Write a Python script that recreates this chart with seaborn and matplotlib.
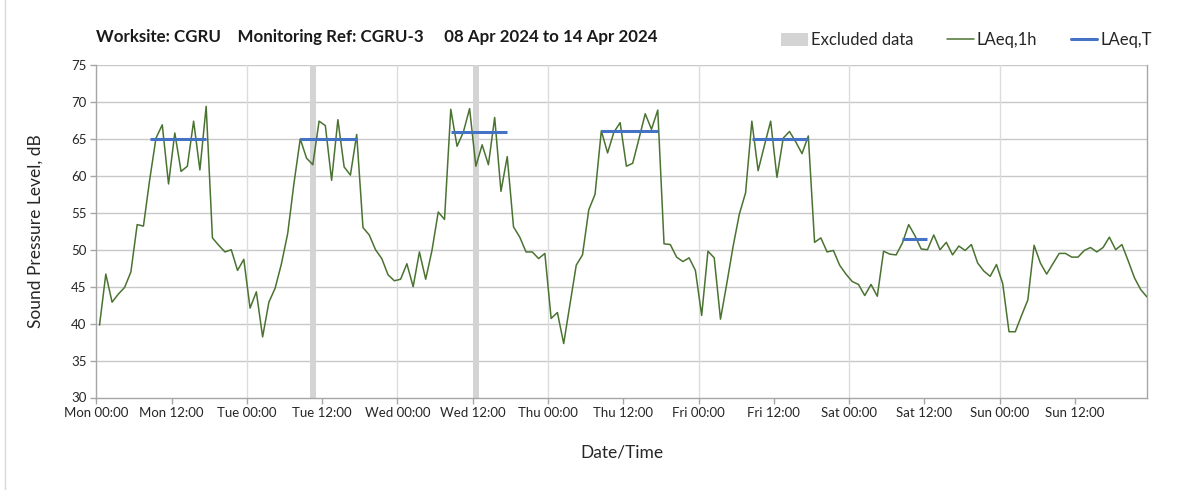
import numpy as np
import pandas as pd
import matplotlib
matplotlib.use("Agg")
import matplotlib.pyplot as plt
import seaborn as sns
from matplotlib.patches import Patch
from matplotlib.lines import Line2D

# Hourly LAeq,1h values, Mon 00:00 to Sun 23:00 (dB)
laeq_1h = [
    39.8, 46.7, 42.9, 44.0, 44.9, 47.0, 53.4, 53.2, 59.5, 65.1, 66.9, 58.9,
    65.8, 60.6, 61.3, 67.4, 60.8, 69.4, 51.6, 50.6, 49.7, 50.0, 47.2, 48.7,
    42.1, 44.3, 38.2, 42.9, 44.8, 48.1, 52.2, 59.0, 65.0, 62.4, 61.5, 67.4,
    66.8, 59.4, 67.6, 61.2, 60.1, 65.6, 53.0, 52.0, 50.0, 48.8, 46.6, 45.8,
    46.0, 48.1, 45.0, 49.7, 46.0, 49.9, 55.1, 54.1, 69.0, 64.0, 65.9, 69.1,
    61.3, 64.2, 61.5, 67.9, 57.9, 62.6, 53.1, 51.7, 49.7, 49.7, 48.8, 49.5,
    40.7, 41.5, 37.3, 42.6, 47.9, 49.3, 55.4, 57.5, 66.1, 63.1, 65.9, 67.2,
    61.3, 61.7, 65.0, 68.4, 66.3, 68.9, 50.8, 50.7, 49.0, 48.4, 48.9, 47.2,
    41.1, 49.8, 48.9, 40.6, 45.4, 50.4, 54.8, 57.7, 67.4, 60.7, 64.1, 67.4,
    59.8, 65.1, 66.0, 64.6, 63.0, 65.4, 51.0, 51.6, 49.7, 49.9, 47.9, 46.7,
    45.7, 45.3, 43.8, 45.3, 43.7, 49.8, 49.4, 49.3, 50.9, 53.4, 51.9, 50.1,
    50.0, 52.0, 50.0, 51.0, 49.3, 50.5, 49.9, 50.7, 48.2, 47.1, 46.4, 48.0,
    45.4, 38.9, 38.9, 41.1, 43.2, 50.6, 48.2, 46.7, 48.1, 49.5, 49.5, 49.0,
    49.0, 49.9, 50.3, 49.7, 50.3, 51.7, 50.0, 50.7, 48.5, 46.2, 44.6, 43.6,
]
hour_of_week = np.arange(len(laeq_1h)) + 0.5  # each value plotted mid-hour

# Daytime LAeq,T per day: first hour, last hour, level
period_start = [8, 32, 56, 80, 104, 128]
period_end = [17, 41, 65, 89, 113, 132]
laeq_t = [65.0, 65.0, 65.9, 66.1, 65.0, 51.5]

# Hours excluded from the assessment
excluded_hours = [34, 60]

tick_hours = list(range(0, 168, 12))
tick_labels = ["Mon 00:00", "Mon 12:00", "Tue 00:00", "Tue 12:00", "Wed 00:00",
               "Wed 12:00", "Thu 00:00", "Thu 12:00", "Fri 00:00", "Fri 12:00",
               "Sat 00:00", "Sat 12:00", "Sun 00:00", "Sun 12:00"]

green = "#4a7331"
blue = "#4472c4"
band = "#d4d4d4"
grid_c = "#c8c8c8"
axis_c = "#a6a6a6"
text_c = "#262626"

sns.set_theme(style="white")
plt.rcParams["font.family"] = ["Lato", "DejaVu Sans"]
plt.rcParams["text.color"] = text_c

df = pd.DataFrame({"hour": hour_of_week, "level": laeq_1h})

fig = plt.figure(figsize=(12.03, 4.90), dpi=100)
ax = fig.add_axes([96.4 / 1203, 1 - 397.5 / 490, (1147 - 96.4) / 1203, (397.5 - 65) / 490])

for h in excluded_hours:
    ax.axvspan(h, h + 0.95, color=band, lw=0, zorder=1)

sns.lineplot(data=df, x="hour", y="level", color=green, lw=1.1, ax=ax, zorder=3)

ax.hlines(laeq_t,
          [s + 0.5 for s in period_start],
          [e + 0.5 for e in period_end],
          color=blue, lw=2.2, zorder=4)

ax.set_xlim(0, 167.5)
ax.set_ylim(30, 75)
ax.set_yticks(range(30, 80, 5))
ax.set_xticks(tick_hours)
ax.set_xticklabels(tick_labels)

# horizontal grid every 5 dB, vertical grid at midnight
for y in range(35, 80, 5):
    ax.axhline(y, color=grid_c, lw=1.0, zorder=0.5)
for d in range(24, 168, 24):
    ax.axvline(d, color="#dcdcdc", lw=1.0, zorder=0.5)

ax.spines["top"].set_visible(False)
for side in ["left", "bottom", "right"]:
    ax.spines[side].set_color(axis_c)
    ax.spines[side].set_linewidth(1.0)

ax.tick_params(axis="both", which="major", length=4, width=1.0, color=axis_c,
               labelsize=9.5, labelcolor=text_c, pad=3, direction="out",
               bottom=True, left=True)

ax.set_xlabel("Date/Time", fontsize=12.5, color=text_c, labelpad=18)
ax.set_ylabel("Sound Pressure Level, dB", fontsize=12.5, color=text_c, labelpad=20)

fig.text(96 / 1203, 1 - 37 / 490,
         "Worksite: CGRU    Monitoring Ref: CGRU-3     08 Apr 2024 to 14 Apr 2024",
         fontsize=12.2, fontweight="bold", color="#1a1a1a", va="center", ha="left")

handles = [Patch(facecolor=band, edgecolor="none", label="Excluded data"),
           Line2D([], [], color=green, lw=1.1, label="LAeq,1h"),
           Line2D([], [], color=blue, lw=2.2, label="LAeq,T")]
fig.legend(handles=handles, loc="center left", ncol=3, frameon=False,
           bbox_to_anchor=(766 / 1203, 1 - 40 / 490), fontsize=12,
           handlelength=1.6, handletextpad=0.2, columnspacing=2.0,
           handleheight=0.8)

# light frame along the left edge of the chart area
fig.add_artist(Line2D([5 / 1203, 5 / 1203], [0, 1], color="#d9d9d9", lw=1.0,
                      transform=fig.transFigure))

fig.savefig("out.png", dpi=100)
